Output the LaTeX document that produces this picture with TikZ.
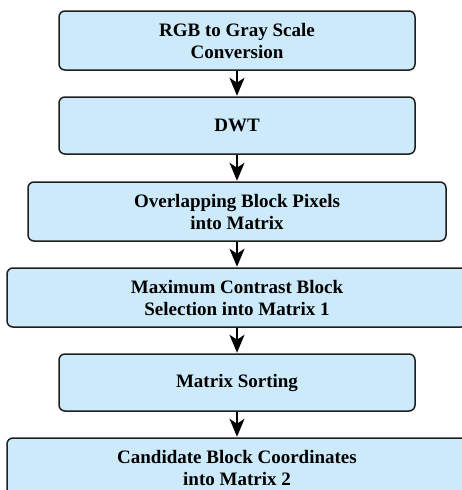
\documentclass[tikz,border=0pt]{standalone}
\usepackage{fontspec}
\setmainfont{Liberation Serif}
\usetikzlibrary{arrows.meta}
\definecolor{boxfill}{RGB}{204,234,250}
\definecolor{boxline}{RGB}{30,30,30}
\begin{document}
\begin{tikzpicture}[x=1pt,y=-1pt,
  stage/.style={draw=boxline, line width=1.5pt, fill=boxfill, rounded corners=6pt,
    align=center, inner sep=0pt, minimum height=#1,
    font=\bfseries\fontsize{19}{22}\selectfont},
  flow/.style={line width=1.7pt, -{Stealth[length=18pt,width=15pt,inset=5pt]}, shorten >=0.5pt}]
\clip (0,0) rectangle (462,490);
\node[stage=59pt, minimum width=356pt] (rgb) at (237,40.5) {RGB to Gray Scale\\Conversion};
\node[stage=57pt, minimum width=356pt] (dwt) at (237,125.5) {DWT};
\node[stage=59pt, minimum width=418pt] (ovl) at (237,211.5) {Overlapping Block Pixels\\into Matrix};
\node[stage=59pt, minimum width=460pt] (max) at (237,297.5) {Maximum Contrast Block\\Selection into Matrix 1};
\node[stage=57pt, minimum width=356pt] (sort) at (237,382.5) {Matrix Sorting};
\node[stage=59pt, minimum width=460pt] (cand) at (237,467.5) {Candidate Block Coordinates\\into Matrix 2};
\draw[flow] (rgb) -- (dwt);
\draw[flow] (dwt) -- (ovl);
\draw[flow] (ovl) -- (max);
\draw[flow] (max) -- (sort);
\draw[flow] (sort) -- (cand);
\end{tikzpicture}
\end{document}
